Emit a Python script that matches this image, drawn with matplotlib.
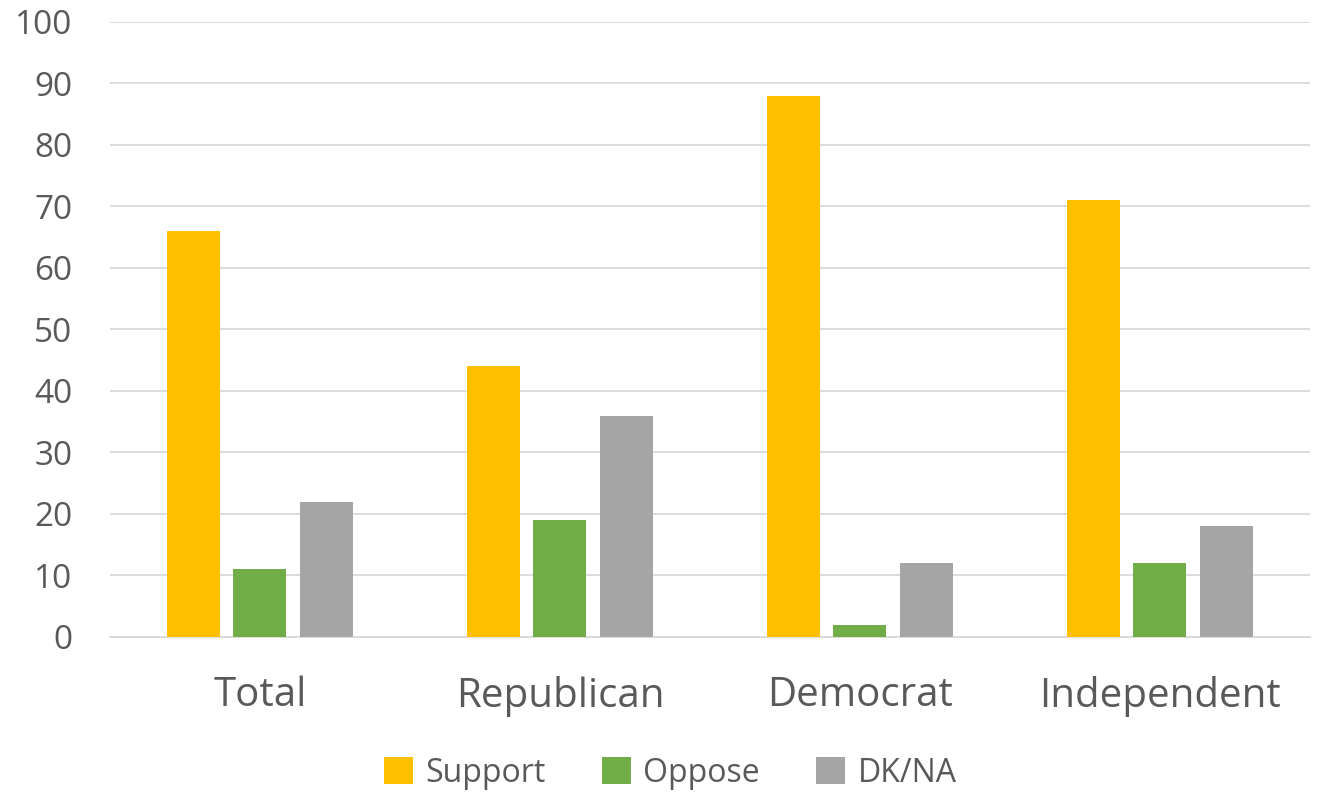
import matplotlib.pyplot as plt
import numpy as np

categories = ["Total", "Republican", "Democrat", "Independent"]
support = [66, 44, 88, 71]
oppose = [11, 19, 2, 12]
dkna = [22, 36, 12, 18]

series = [("Support", support, "#FFC000"),
          ("Oppose", oppose, "#70AD47"),
          ("DK/NA", dkna, "#A5A5A5")]

plt.rcParams['font.family'] = ['Open Sans', 'DejaVu Sans']
txt = "#595959"

fig = plt.figure(figsize=(13.17, 7.97), dpi=100)
ax = fig.add_axes([0.0835, 0.2008, 0.911, 0.7716])

x = np.arange(len(categories))
width = 0.177
step = 0.222
for i, (name, vals, col) in enumerate(series):
    ax.bar(x + (i - 1) * step, vals, width=width, color=col, label=name, zorder=3)

ax.set_xlim(-0.5, len(categories) - 0.5)
ax.set_ylim(0, 100)
ax.set_yticks(range(0, 101, 10))
ax.yaxis.grid(True, color="#D9D9D9", linewidth=1.3, zorder=0)
for s in ["top", "right", "left"]:
    ax.spines[s].set_visible(False)
ax.spines["bottom"].set_color("#D9D9D9")
ax.spines["bottom"].set_linewidth(1.3)
ax.tick_params(axis="y", length=0, labelsize=24, labelcolor=txt, pad=27)
ax.tick_params(axis="x", length=0, labelsize=29, labelcolor=txt, pad=28)
ax.set_xticks(x)
ax.set_xticklabels(categories)

handles, labels = ax.get_legend_handles_labels()
leg = fig.legend(handles, labels, loc="center", bbox_to_anchor=(0.509, 0.03), ncol=3,
                 frameon=False, fontsize=23, handlelength=0.9, handleheight=0.9,
                 columnspacing=1.75, handletextpad=0.4)
for t in leg.get_texts():
    t.set_color(txt)

fig.savefig("out.png", dpi=100)
